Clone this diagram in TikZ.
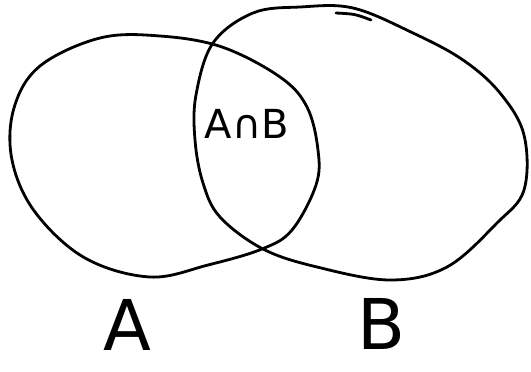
\documentclass[tikz,border=0pt]{standalone}
\usepackage{fontspec}
\usepackage{tikz}
\usetikzlibrary{positioning}
\newfontfamily\handfont{DejaVu Sans}

\begin{document}
\begin{tikzpicture}[
      x=1pt, y=-1pt,
      pen/.style={draw=black, line width=2.8pt, line cap=round, line join=round},
      lbl/.style={inner sep=0pt},
    ]
    \useasboundingbox (0,0) rectangle (531,372);

    % set A (left outline)
    \draw[pen] plot[smooth cycle, tension=0.6] coordinates {
      (40,66) (100,38) (160,36) (222,47) (280,77) (307,107) (318,150)
      (316,185) (292,230) (262,249) (208,265) (150,277)
      (85,258) (35,212) (12,160) (14,108)};

    % set B (right outline)
    \draw[pen] plot[smooth cycle, tension=0.6] coordinates {
      (213,43) (253,13) (300,7) (353,8) (413,33) (463,60) (500,93)
      (524,135) (524,190) (497,223) (447,267) (390,280) (317,267)
      (263,249) (220,217) (203,183) (195,140) (196,95)};

    % double stroke on top of B
    \draw[pen] (336,13) .. controls (355,14) .. (371,20);

    % labels
    \node[lbl, font=\fontsize{40}{40}\selectfont\handfont] (labelAB) at (247,124) {A∩B};
    \node[lbl, font=\fontsize{70}{70}\selectfont\handfont] (labelA) at (127,325) {A};
    \node[lbl, font=\fontsize{70}{70}\selectfont\handfont] (labelB) at (382,324) {B};
  \end{tikzpicture}
\end{document}
